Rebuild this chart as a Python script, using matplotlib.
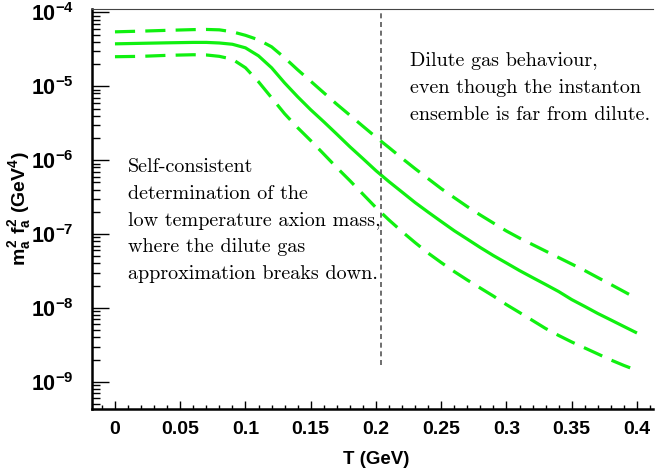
import numpy as np
import matplotlib
matplotlib.use("Agg")
from matplotlib import pyplot as plt
from matplotlib import ticker

# temperature grid (GeV)
T = [0.00, 0.02, 0.04, 0.06, 0.07, 0.08, 0.09, 0.10, 0.11, 0.12,
     0.13, 0.14, 0.15, 0.16, 0.17, 0.18, 0.19, 0.20, 0.21, 0.22,
     0.23, 0.24, 0.25, 0.26, 0.27, 0.28, 0.29, 0.30, 0.31, 0.32,
     0.33, 0.34, 0.35, 0.36, 0.37, 0.38, 0.39, 0.40]

# m_a^2 f_a^2 (GeV^4), central curve
central = [3.75e-5, 3.81e-5, 3.87e-5, 3.92e-5, 3.92e-5, 3.85e-5, 3.70e-5, 3.31e-5, 2.58e-5, 1.78e-5,
           1.11e-5, 7.21e-6, 4.81e-6, 3.31e-6, 2.25e-6, 1.52e-6, 1.05e-6, 7.21e-7, 5.12e-7, 3.70e-7,
           2.67e-7, 1.98e-7, 1.48e-7, 1.11e-7, 8.55e-8, 6.57e-8, 5.12e-8, 4.06e-8, 3.21e-8, 2.58e-8,
           2.08e-8, 1.67e-8, 1.30e-8, 1.05e-8, 8.43e-9, 6.89e-9, 5.62e-9, 4.59e-9]

# upper band
upper = [5.45e-5, 5.57e-5, 5.71e-5, 5.84e-5, 5.87e-5, 5.80e-5, 5.45e-5, 4.89e-5, 4.25e-5, 3.42e-5,
         2.43e-5, 1.67e-5, 1.17e-5, 8.17e-6, 5.71e-6, 4.06e-6, 2.88e-6, 2.05e-6, 1.48e-6, 1.06e-6,
         7.67e-7, 5.62e-7, 4.12e-7, 3.11e-7, 2.35e-7, 1.81e-7, 1.41e-7, 1.10e-7, 8.83e-8, 7.21e-8,
         5.89e-8, 4.81e-8, 3.93e-8, 3.21e-8, 2.58e-8, 2.08e-8, 1.67e-8, 1.34e-8]

# lower band
lower = [2.51e-5, 2.54e-5, 2.62e-5, 2.67e-5, 2.65e-5, 2.54e-5, 2.32e-5, 1.78e-5, 1.15e-5, 7.00e-6,
         4.25e-6, 2.75e-6, 1.84e-6, 1.21e-6, 7.93e-7, 5.29e-7, 3.47e-7, 2.28e-7, 1.55e-7, 1.08e-7,
         7.67e-8, 5.53e-8, 4.12e-8, 3.11e-8, 2.39e-8, 1.86e-8, 1.45e-8, 1.11e-8, 8.69e-9, 6.78e-9,
         5.28e-9, 4.25e-9, 3.47e-9, 2.88e-9, 2.39e-9, 1.98e-9, 1.67e-9, 1.43e-9]

T_split = 0.204
split_ymin = 1.72e-9

x_ticks = [0, 0.05, 0.1, 0.15, 0.2, 0.25, 0.3, 0.35, 0.4]
x_ticklabels = ['0', '0.05', '0.1', '0.15', '0.2', '0.25', '0.3', '0.35', '0.4']
y_ticks = [1e-9, 1e-8, 1e-7, 1e-6, 1e-5, 1e-4]

text_left = ("Self-consistent\ndetermination of the\nlow temperature axion mass,\n"
             "where the dilute gas\napproximation breaks down.")
text_right = "Dilute gas behaviour,\neven though the instanton\nensemble is far from dilute."

plt.rcParams['mathtext.fontset'] = 'custom'
plt.rcParams['mathtext.rm'] = 'Liberation Sans:bold'
plt.rcParams['mathtext.it'] = 'Liberation Sans:bold'
plt.rcParams['mathtext.bf'] = 'Liberation Sans:bold'
plt.rcParams['font.family'] = 'Liberation Sans'
plt.rcParams['font.weight'] = 'bold'

fig = plt.figure(figsize=(6.55, 4.75), dpi=100)
ax = fig.add_axes([92/655, 1 - 409/475, 561/655, 400/475])

green = '#10f010'
ax.plot(T, central, color=green, lw=2.3, solid_capstyle='butt')
ax.plot(T, upper, color=green, lw=2.3, dashes=(6.3, 3.2))
ax.plot(T, lower, color=green, lw=2.3, dashes=(6.3, 3.2))

ax.plot([T_split, T_split], [split_ymin, 1.2e-4], color='#555555', lw=1.2,
        dashes=(3, 2.2))

ax.set_yscale('log')
ax.set_xlim(-0.0176, 0.4123)
ax.set_ylim(4.3e-10, 1.11e-4)

ax.set_xticks(x_ticks)
ax.set_xticklabels(x_ticklabels)
ax.xaxis.set_minor_locator(ticker.MultipleLocator(0.01))
ax.set_yticks(y_ticks)
ax.yaxis.set_major_formatter(ticker.LogFormatterMathtext())
ax.yaxis.set_minor_locator(ticker.LogLocator(base=10, subs=np.arange(2, 10), numticks=20))
ax.yaxis.set_minor_formatter(ticker.NullFormatter())

ax.tick_params(axis='x', which='major', direction='in', length=6, width=1, pad=9, labelsize=14)
ax.tick_params(axis='x', which='minor', direction='in', length=3, width=1)
ax.tick_params(axis='y', which='major', direction='in', length=12, width=1, pad=13, labelsize=15.5)
ax.tick_params(axis='y', which='minor', direction='in', length=6, width=1)

ax.spines['right'].set_visible(False)
ax.spines['top'].set_color('#444444')
ax.spines['top'].set_linewidth(0.8)
ax.spines['left'].set_linewidth(1.8)
ax.spines['bottom'].set_linewidth(1.8)

ax.set_xlabel('T (GeV)', fontsize=13.5, fontweight='bold')
ax.xaxis.set_label_coords(0.506, -0.105)
ax.set_ylabel(r'$m_a^2\ f_a^2$ (GeV$^4$)', fontsize=14, fontweight='bold')
ax.yaxis.set_label_coords(-0.105, 0.5)

ax.text(0.064, 0.628, text_left, transform=ax.transAxes, family='cmr10',
        fontsize=14.5, fontweight='normal', va='top', ha='left', linespacing=1.64)
ax.text(0.567, 0.893, text_right, transform=ax.transAxes, family='cmr10',
        fontsize=14.5, fontweight='normal', va='top', ha='left', linespacing=1.64)

fig.savefig('out.png', dpi=100)
